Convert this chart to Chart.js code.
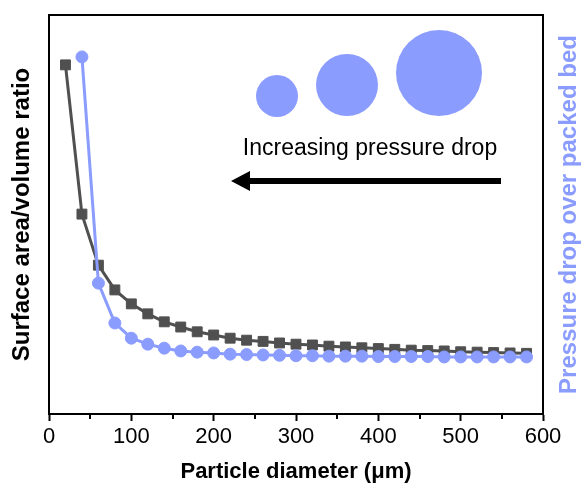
<!DOCTYPE html>
<html>
<head>
<meta charset="utf-8">
<script src="https://cdn.jsdelivr.net/npm/chart.js@4"></script>
<style>
html,body{margin:0;padding:0;background:#fff;}
#wrap{width:581px;height:493px;}
</style>
</head>
<body>
<div id="wrap"><canvas id="c" width="581" height="493"></canvas></div>
<script>
// ---- data ----
const diamSquares = [20,40,60,80,100,120,140,160,180,200,220,240,260,280,300,320,340,360,380,400,420,440,460,480,500,520,540,560,580];
const surfaceVolume = [87.5,50.1,37.3,31.1,27.6,25.1,23.1,21.8,20.6,19.8,19.0,18.5,18.2,17.8,17.5,17.3,17.0,16.8,16.6,16.4,16.2,16.0,15.9,15.8,15.6,15.5,15.4,15.3,15.2];
const diamCircles = [40,60,80,100,120,140,160,180,200,220,240,260,280,300,320,340,360,380,400,420,440,460,480,500,520,540,560,580];
const pressureDrop = [89.5,32.8,22.8,19.0,17.5,16.5,15.8,15.5,15.3,15.0,14.9,14.8,14.7,14.6,14.6,14.5,14.5,14.5,14.4,14.4,14.4,14.4,14.3,14.3,14.3,14.3,14.3,14.3];
const minorTicks = [50,150,250,350,450,550];
const xTitle = 'Particle diameter (\u03bcm)';
const yLeftTitle = 'Surface area/volume ratio';
const yRightTitle = 'Pressure drop over packed bed';
const annotationText = 'Increasing pressure drop';

const GRAY = '#505050';
const BLUE = '#8b9cff';
const FONT = "'Liberation Sans', Arial, sans-serif";

const extras = {
  id: 'extras',
  afterDraw(chart) {
    const ctx = chart.ctx;
    const a = chart.chartArea;
    const xs = chart.scales.x;
    ctx.save();
    // top frame line
    ctx.strokeStyle = '#000';
    ctx.lineWidth = 2;
    ctx.beginPath();
    ctx.moveTo(a.left - 1, a.top);
    ctx.lineTo(a.right + 1, a.top);
    ctx.stroke();
    // minor ticks
    minorTicks.forEach(v => {
      const px = Math.round(xs.getPixelForValue(v));
      ctx.beginPath();
      ctx.moveTo(px, a.bottom);
      ctx.lineTo(px, a.bottom + 5);
      ctx.stroke();
    });
    // right title
    ctx.fillStyle = BLUE;
    ctx.font = "bold 24px " + FONT;
    ctx.textAlign = 'center';
    ctx.textBaseline = 'middle';
    ctx.translate(569, (a.top + a.bottom) / 2);
    ctx.rotate(-Math.PI / 2);
    ctx.fillText(yRightTitle, 0, 0);
    ctx.restore();

    // illustration circles
    ctx.save();
    ctx.fillStyle = BLUE;
    [[277,96,21],[347,85,31],[439,73,43]].forEach(c => {
      ctx.beginPath();
      ctx.arc(c[0], c[1], c[2], 0, Math.PI * 2);
      ctx.fill();
    });
    // text
    ctx.fillStyle = '#000';
    ctx.font = "23px " + FONT;
    ctx.textAlign = 'center';
    ctx.textBaseline = 'alphabetic';
    ctx.fillText(annotationText, 370, 155);
    // arrow
    ctx.strokeStyle = '#000';
    ctx.lineWidth = 6;
    ctx.beginPath();
    ctx.moveTo(501, 181);
    ctx.lineTo(246, 181);
    ctx.stroke();
    ctx.fillStyle = '#000';
    ctx.beginPath();
    ctx.moveTo(231, 181);
    ctx.lineTo(250, 171);
    ctx.lineTo(250, 191);
    ctx.closePath();
    ctx.fill();
    ctx.restore();
  }
};

new Chart(document.getElementById('c'), {
  type: 'line',
  data: {
    datasets: [
      {
        label: 'Pressure drop',
        data: diamCircles.map((d, i) => ({x: d, y: pressureDrop[i]})),
        borderColor: BLUE,
        backgroundColor: BLUE,
        borderWidth: 3,
        pointStyle: 'circle',
        pointRadius: 6,
        pointBorderWidth: 1,
        pointBackgroundColor: BLUE,
        pointBorderColor: BLUE,
        yAxisID: 'y2',
        order: 0
      },
      {
        label: 'Surface area/volume',
        data: diamSquares.map((d, i) => ({x: d, y: surfaceVolume[i]})),
        borderColor: GRAY,
        backgroundColor: GRAY,
        borderWidth: 3,
        pointStyle: 'rect',
        pointRadius: 7,
        pointBorderWidth: 1,
        pointBackgroundColor: GRAY,
        pointBorderColor: GRAY,
        yAxisID: 'y',
        order: 1
      }
    ]
  },
  options: {
    responsive: false,
    animation: false,
    events: [],
    layout: {padding: {top: 15, left: 0, right: 0, bottom: 0}},
    plugins: {legend: {display: false}, tooltip: {enabled: false}},
    scales: {
      x: {
        type: 'linear',
        position: 'bottom',
        min: 0, max: 600,
        afterFit(s) { s.height = 79; },
        ticks: {stepSize: 100, padding: 3, color: '#000', font: {family: FONT, size: 22}, maxRotation: 0},
        grid: {display: true, drawOnChartArea: false, drawTicks: true, tickLength: 7, tickColor: '#000', tickWidth: 2},
        border: {display: true, color: '#000', width: 2},
        title: {display: true, text: xTitle, color: '#000', font: {family: FONT, size: 22, weight: 'bold'}, padding: {top: 0, bottom: 8}}
      },
      y: {
        type: 'linear',
        position: 'left',
        min: 0, max: 100,
        afterFit(s) { s.width = 49; },
        ticks: {display: false},
        grid: {display: false},
        border: {display: true, color: '#000', width: 2},
        title: {display: true, text: yLeftTitle, color: '#000', font: {family: FONT, size: 24, weight: 'bold'}, padding: {top: 8, bottom: 0}}
      },
      y2: {
        type: 'linear',
        position: 'right',
        min: 0, max: 100,
        afterFit(s) { s.width = 38; },
        ticks: {display: false},
        grid: {display: false},
        border: {display: true, color: '#000', width: 2},
        title: {display: false}
      }
    }
  },
  plugins: [extras]
});
</script>
</body>
</html>
